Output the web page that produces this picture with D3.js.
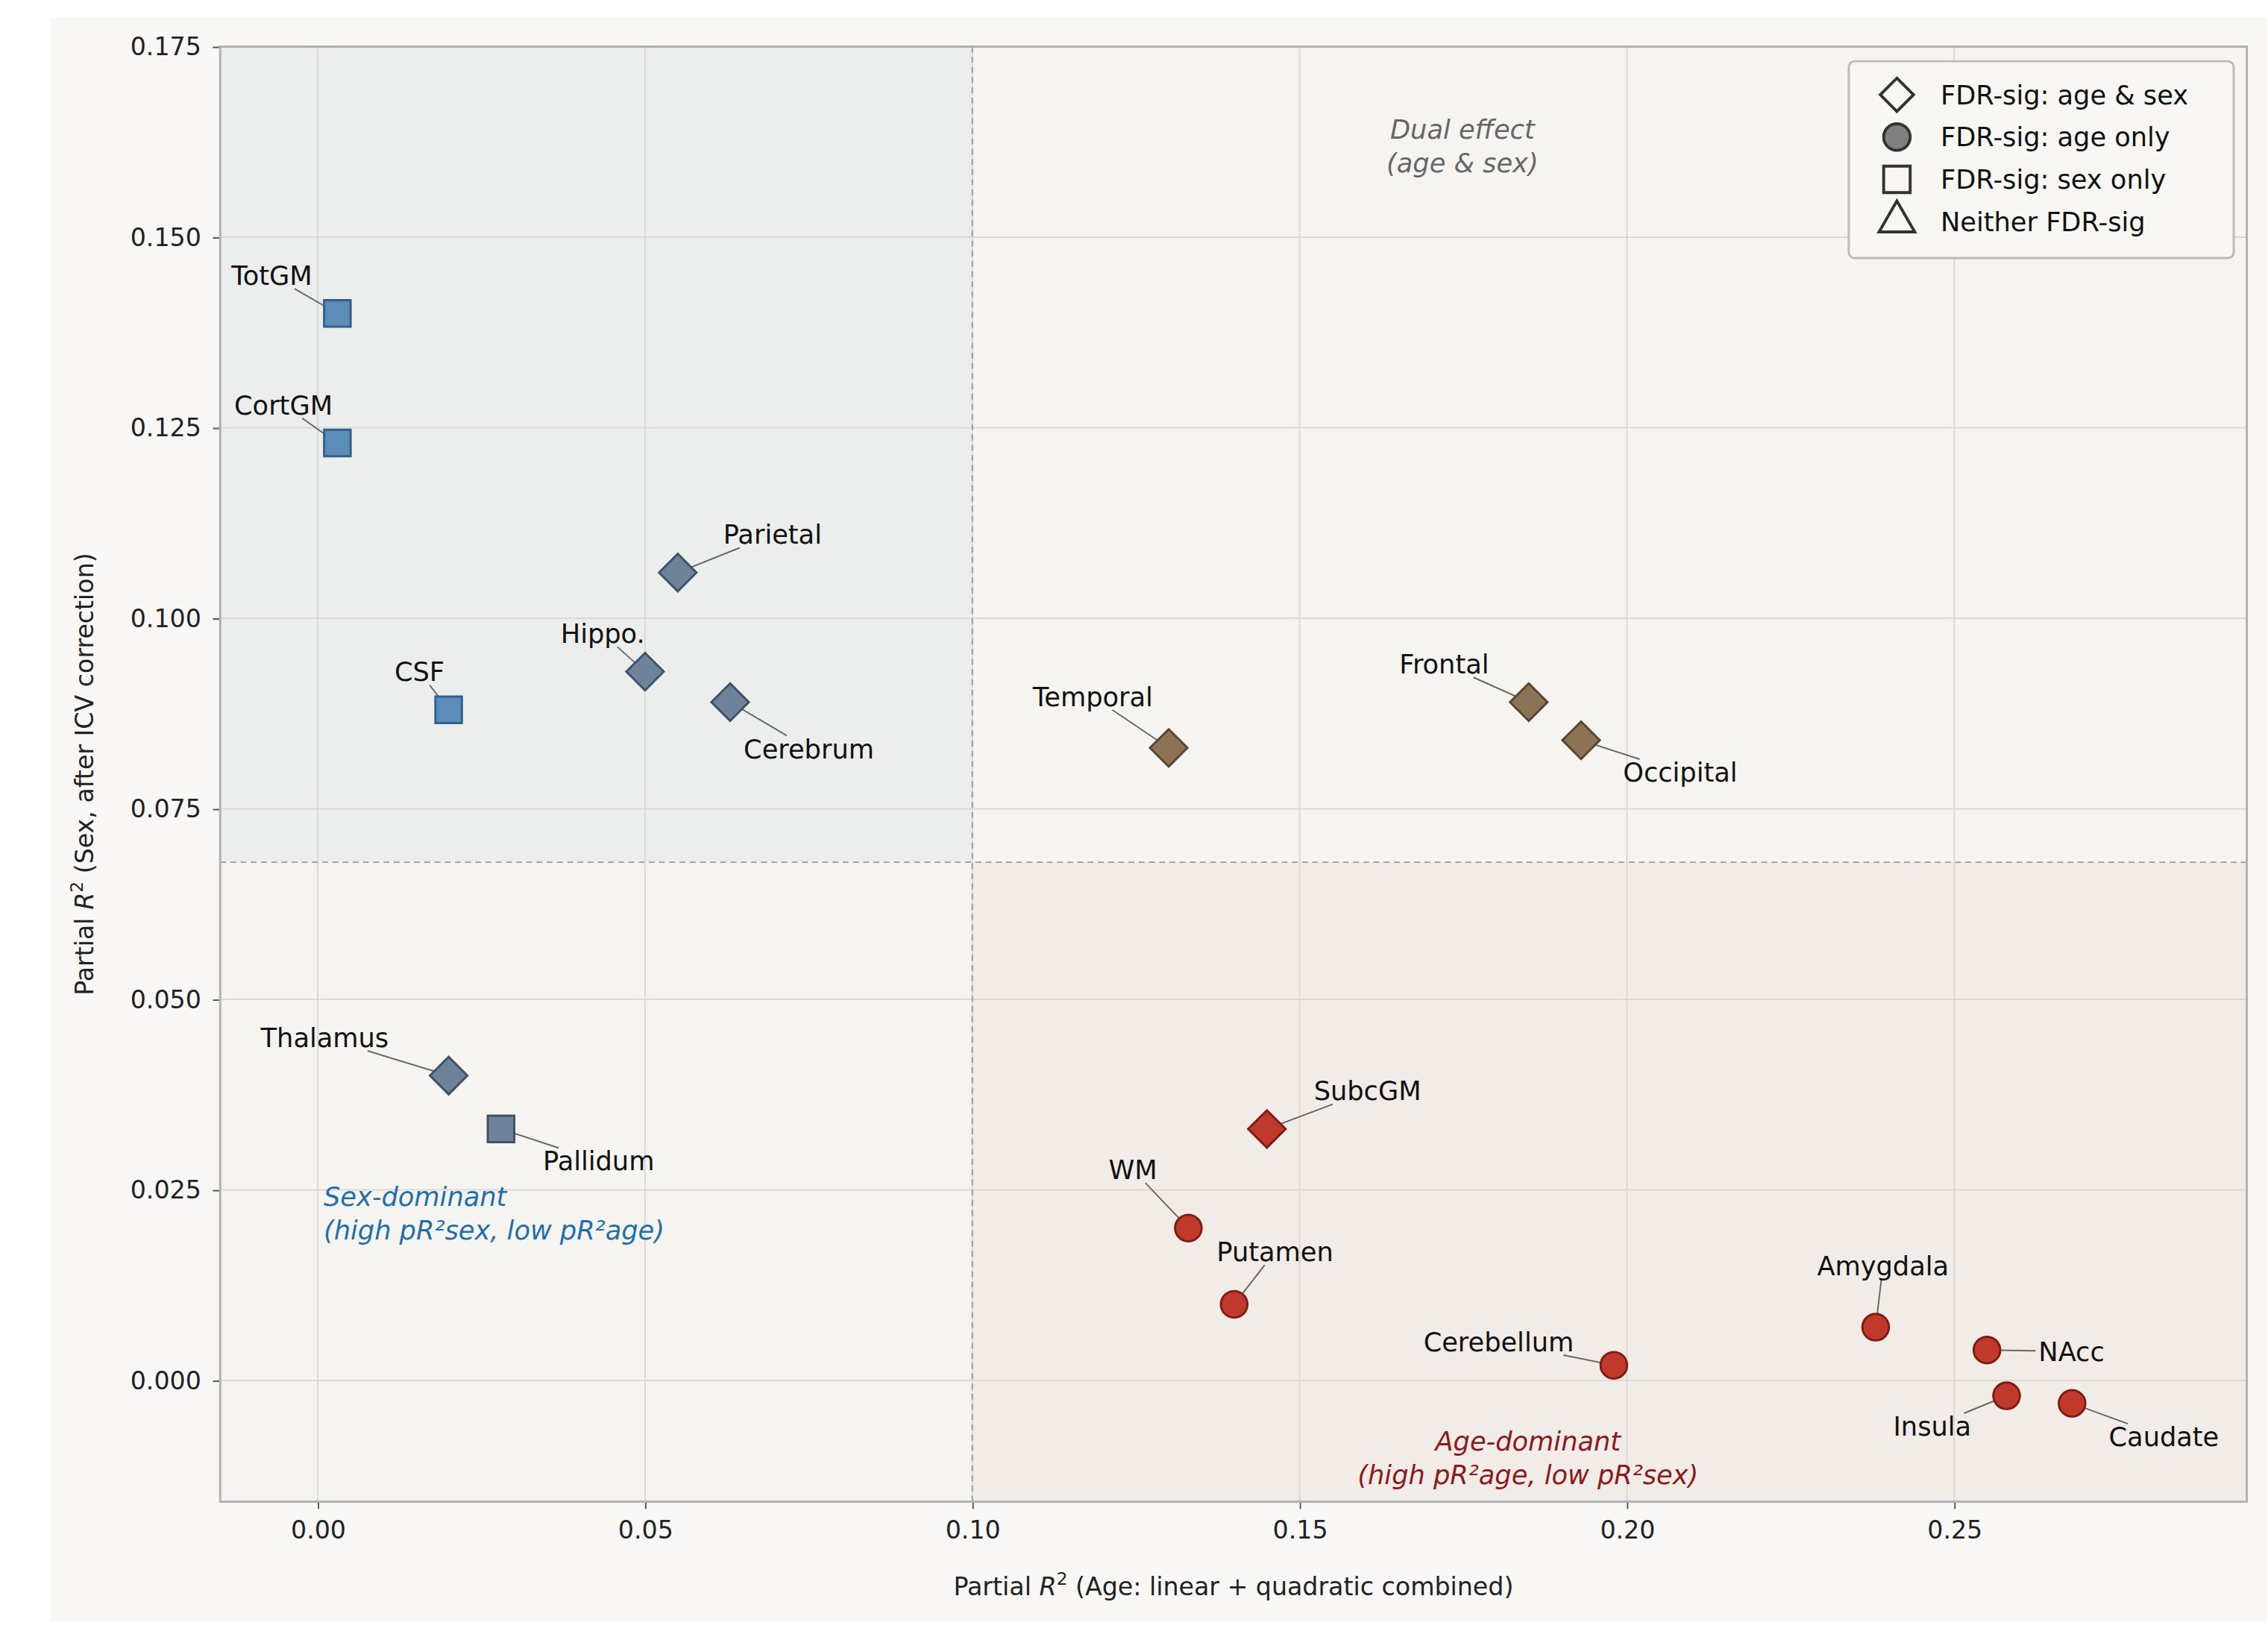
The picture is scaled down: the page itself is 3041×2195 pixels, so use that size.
<!DOCTYPE html>
<html><head><meta charset="utf-8">
<script src="https://cdn.jsdelivr.net/npm/d3@7"></script>
<style>body{margin:0;background:#fff}text{font-family:"DejaVu Sans",sans-serif}</style>
</head><body>
<script>
// data
var regions = ["TotGM","CortGM","CSF","Parietal","Hippo.","Cerebrum","Temporal","Frontal","Occipital",
  "Thalamus","Pallidum","SubcGM","WM","Putamen","Cerebellum","Amygdala","NAcc","Insula","Caudate"];
var ageR2 = [0.003,0.003,0.020,0.055,0.050,0.063,0.130,0.185,0.193,0.020,0.028,0.145,0.133,0.140,0.198,0.238,0.255,0.258,0.268];
var sexR2 = [0.140,0.123,0.088,0.106,0.093,0.089,0.083,0.089,0.084,0.040,0.033,0.033,0.020,0.010,0.002,0.007,0.004,-0.002,-0.003];
var sig = ["sex","sex","sex","both","both","both","both","both","both","both","sex","both","age","age","age","age","age","age","age"];
var group = ["blue","blue","blue","slate","slate","slate","brown","brown","brown","slate","slate","red","red","red","red","red","red","red","red"];
// label text offsets from marker (px)
var labelDx = [-45,-37,-20,65,-29,54,-52,-58,68,-85,67,69,-38,28,-79,5,58,-51,63];
var labelDy = [-26,-26,-26,-26,-26,32,-35,-26,22,-26,22,-26,-40,-36,-16,-42,1,21,23];
var xTicks = [0,0.05,0.10,0.15,0.20,0.25];
var yTicks = [0,0.025,0.05,0.075,0.10,0.125,0.15,0.175];
var legendItems = ["FDR-sig: age & sex","FDR-sig: age only","FDR-sig: sex only","Neither FDR-sig"];

var colors = {blue:["#5b8db8","#2f5f8a"], slate:["#6e8399","#3f5266"], brown:["#8c7355","#5a4530"], red:["#c0392b","#7f1d15"]};
var W = 1555.5, H = 1122.8;
var svg = d3.select("body").append("svg").attr("width",3041).attr("height",2195)
  .attr("viewBox","0 0 "+W+" "+H);
svg.append("rect").attr("x",35).attr("y",12).attr("width",1520).attr("height",1100).attr("fill","#f8f7f5");

var L=151,R=1541,T=32,B=1030;
var x = d3.scaleLinear().domain([-0.0149,0.2947]).range([L,R]);
var y = d3.scaleLinear().domain([-0.0159,0.175]).range([B,T]);
var xT = 0.10, yT = 0.068;

svg.append("rect").attr("x",L).attr("y",T).attr("width",R-L).attr("height",B-T).attr("fill","#f6f4f1");
svg.append("rect").attr("x",L).attr("y",T).attr("width",x(xT)-L).attr("height",y(yT)-T).attr("fill","#eceeee");
svg.append("rect").attr("x",x(xT)).attr("y",y(yT)).attr("width",R-x(xT)).attr("height",B-y(yT)).attr("fill","#f2ece8");

var g = svg.append("g");
g.selectAll(".gx").data(xTicks).enter().append("line").attr("x1",d=>x(d)).attr("x2",d=>x(d)).attr("y1",T).attr("y2",B).attr("stroke","#ddd8d2");
g.selectAll(".gy").data(yTicks).enter().append("line").attr("y1",d=>y(d)).attr("y2",d=>y(d)).attr("x1",L).attr("x2",R).attr("stroke","#ddd8d2");
svg.append("line").attr("x1",x(xT)).attr("x2",x(xT)).attr("y1",T).attr("y2",B).attr("stroke","#999").attr("stroke-dasharray","4,3");
svg.append("line").attr("y1",y(yT)).attr("y2",y(yT)).attr("x1",L).attr("x2",R).attr("stroke","#999").attr("stroke-dasharray","4,3");

var ax = svg.append("g").attr("transform","translate(0,"+B+")").call(d3.axisBottom(x).tickValues(xTicks).tickFormat(d3.format(".2f")).tickSizeOuter(0).tickSize(5).tickPadding(8));
var ay = svg.append("g").attr("transform","translate("+L+",0)").call(d3.axisLeft(y).tickValues(yTicks).tickFormat(d3.format(".3f")).tickSizeOuter(0).tickSize(5).tickPadding(8));
[ax,ay].forEach(a=>{a.attr("font-size",17).attr("font-family","DejaVu Sans");
  a.selectAll("text").attr("fill","#222");
  a.selectAll("line").attr("stroke","#555"); a.select(".domain").remove();});
svg.append("rect").attr("x",L).attr("y",T).attr("width",R-L).attr("height",B-T).attr("fill","none").attr("stroke","#b0b0b0").attr("stroke-width",1.5);

var xl = svg.append("text").attr("x",(L+R)/2).attr("y",1094).attr("text-anchor","middle").attr("font-size",17).attr("fill","#222");
xl.append("tspan").text("Partial "); xl.append("tspan").attr("font-style","italic").text("R");
xl.append("tspan").attr("dy",-7).attr("font-size",12).text("2"); xl.append("tspan").attr("dy",7).text(" (Age: linear + quadratic combined)");
var yl = svg.append("text").attr("transform","translate(64,"+(T+B)/2+") rotate(-90)").attr("text-anchor","middle").attr("font-size",17).attr("fill","#222");
yl.append("tspan").text("Partial "); yl.append("tspan").attr("font-style","italic").text("R");
yl.append("tspan").attr("dy",-7).attr("font-size",12).text("2"); yl.append("tspan").attr("dy",7).text(" (Sex, after ICV correction)");

function ann(tx,ty,anchor,color,lines){
  lines.forEach((s,i)=>svg.append("text").attr("x",tx).attr("y",ty+i*23).attr("text-anchor",anchor)
    .attr("font-size",18).attr("font-style","italic").attr("fill",color).text(s));
}
ann(1003,95,"middle","#666",["Dual effect","(age & sex)"]);
ann(222,827,"start","#1f6fa8",["Sex-dominant","(high pR²sex, low pR²age)"]);
ann(1048,995,"middle","#8b1a1a",["Age-dominant","(high pR²age, low pR²sex)"]);

var shapes = {both:d3.symbolSquare, age:d3.symbolCircle, sex:d3.symbolSquare, none:d3.symbolTriangle};
var sizes = {both:330, age:260, sex:330, none:260};
var rot = {both:45, age:0, sex:0, none:0};
var idx = d3.range(regions.length);

// labels + leader lines
var lab = svg.append("g");
idx.forEach(i=>{
  var px=x(ageR2[i]), py=y(sexR2[i]), tx=px+labelDx[i], ty=py+labelDy[i];
  var t = lab.append("text").attr("x",tx).attr("y",ty).attr("text-anchor","middle").attr("dominant-baseline","central")
    .attr("font-size",18).attr("fill","#111").text(regions[i]);
  var bb = t.node().getBBox(), hw=bb.width/2+2, hh=9;
  var vx=px-tx, vy=py-ty, s=Math.min(hw/Math.abs(vx||1e-6), hh/Math.abs(vy||1e-6));
  lab.insert("line","text").attr("x1",px).attr("y1",py).attr("x2",tx+vx*Math.min(s,1)).attr("y2",ty+vy*Math.min(s,1))
    .attr("stroke","#666").attr("stroke-width",1);
});

svg.append("g").selectAll("path").data(idx).enter().append("path")
  .attr("transform",i=>"translate("+x(ageR2[i])+","+y(sexR2[i])+") rotate("+rot[sig[i]]+")")
  .attr("d",i=>d3.symbol().type(shapes[sig[i]]).size(sizes[sig[i]])())
  .attr("fill",i=>colors[group[i]][0]).attr("stroke",i=>colors[group[i]][1]).attr("stroke-width",1.5);

// legend
var lg = svg.append("g").attr("transform","translate(1268,42)");
lg.append("rect").attr("width",264).attr("height",135).attr("rx",4).attr("fill","#f7f6f3").attr("stroke","#bbb").attr("stroke-width",1.5);
var lsh=["both","age","sex","none"];
legendItems.forEach((s,i)=>{
  var row=lg.append("g").attr("transform","translate(33,"+(23+i*29)+")");
  row.append("path").attr("transform","rotate("+rot[lsh[i]]+")")
    .attr("d",d3.symbol().type(shapes[lsh[i]]).size(lsh[i]=="both"?260:sizes[lsh[i]])())
    .attr("fill",lsh[i]=="age"?"#808080":"none").attr("stroke","#333").attr("stroke-width",2);
  row.append("text").attr("x",30).attr("y",0).attr("dominant-baseline","central").attr("font-size",18).attr("fill","#111").text(s);
});
</script>
</body></html>
